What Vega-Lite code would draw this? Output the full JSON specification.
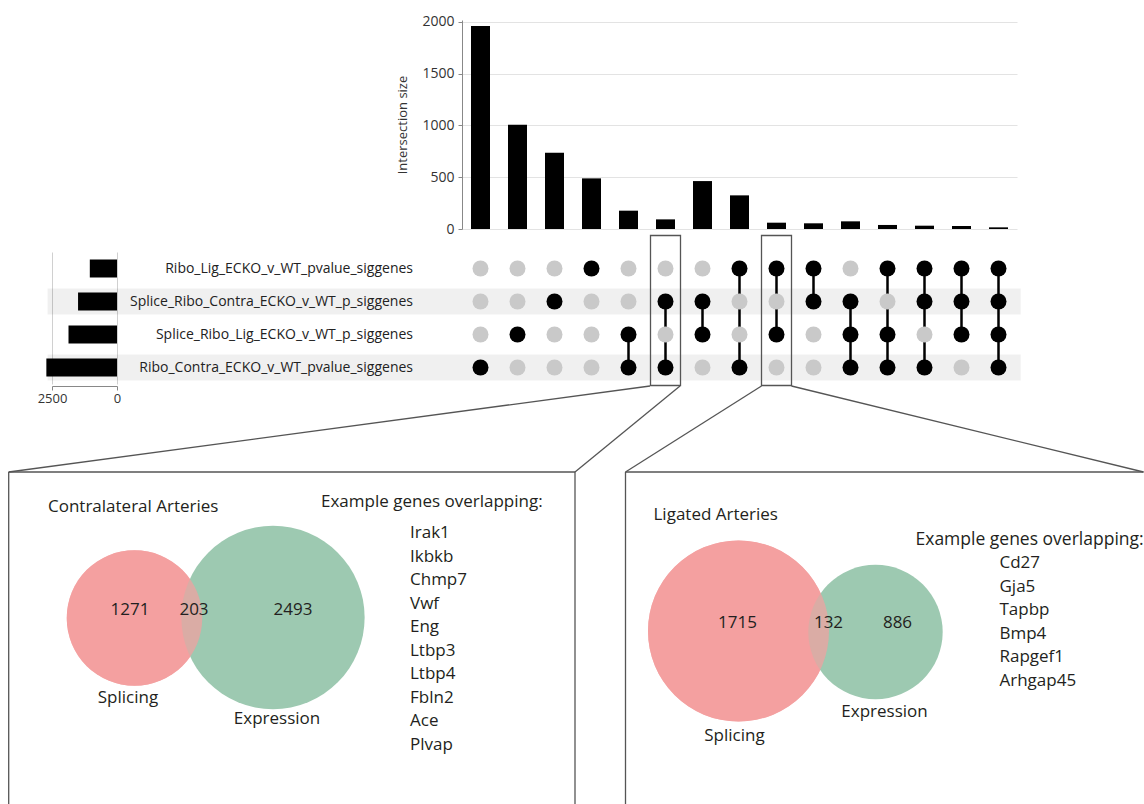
{
  "$schema": "https://vega.github.io/schema/vega-lite/v6.json",
  "background": "white",
  "padding": {"left": 8, "top": 14, "right": 0, "bottom": 0},
  "autosize": {"type": "pad"},
  "config": {"view": {"stroke": null}, "font": "Open Sans"},
  "datasets": {
    "sets": [
      {"key": "RL", "label": "Ribo_Lig_ECKO_v_WT_pvalue_siggenes", "order": 1},
      {"key": "SRC", "label": "Splice_Ribo_Contra_ECKO_v_WT_p_siggenes", "order": 2},
      {"key": "SRL", "label": "Splice_Ribo_Lig_ECKO_v_WT_p_siggenes", "order": 3},
      {"key": "RC", "label": "Ribo_Contra_ECKO_v_WT_pvalue_siggenes", "order": 4}
    ],
    "intersections": [
      {"id": 1, "size": 1961, "RL": 0, "SRC": 0, "SRL": 0, "RC": 1},
      {"id": 2, "size": 1006, "RL": 0, "SRC": 0, "SRL": 1, "RC": 0},
      {"id": 3, "size": 736, "RL": 0, "SRC": 1, "SRL": 0, "RC": 0},
      {"id": 4, "size": 489, "RL": 1, "SRC": 0, "SRL": 0, "RC": 0},
      {"id": 5, "size": 177, "RL": 0, "SRC": 0, "SRL": 1, "RC": 1},
      {"id": 6, "size": 93, "RL": 0, "SRC": 1, "SRL": 0, "RC": 1},
      {"id": 7, "size": 463, "RL": 0, "SRC": 1, "SRL": 1, "RC": 0},
      {"id": 8, "size": 325, "RL": 1, "SRC": 0, "SRL": 0, "RC": 1},
      {"id": 9, "size": 61, "RL": 1, "SRC": 0, "SRL": 1, "RC": 0},
      {"id": 10, "size": 55, "RL": 1, "SRC": 1, "SRL": 0, "RC": 0},
      {"id": 11, "size": 74, "RL": 0, "SRC": 1, "SRL": 1, "RC": 1},
      {"id": 12, "size": 39, "RL": 1, "SRC": 0, "SRL": 1, "RC": 1},
      {"id": 13, "size": 32, "RL": 1, "SRC": 1, "SRL": 0, "RC": 1},
      {"id": 14, "size": 29, "RL": 1, "SRC": 1, "SRL": 1, "RC": 0},
      {"id": 15, "size": 16, "RL": 1, "SRC": 1, "SRL": 1, "RC": 1}
    ],
    "venn_sets": [
      {"panel": "Contralateral Arteries", "set": "Splicing", "total": 1474},
      {"panel": "Contralateral Arteries", "set": "Expression", "total": 2696},
      {"panel": "Ligated Arteries", "set": "Splicing", "total": 1847},
      {"panel": "Ligated Arteries", "set": "Expression", "total": 1018}
    ],
    "venn_regions": [
      {"panel": "Contralateral Arteries", "region": "Splicing only", "n": 1271},
      {"panel": "Contralateral Arteries", "region": "Both", "n": 203},
      {"panel": "Contralateral Arteries", "region": "Expression only", "n": 2493},
      {"panel": "Ligated Arteries", "region": "Splicing only", "n": 1715},
      {"panel": "Ligated Arteries", "region": "Both", "n": 132},
      {"panel": "Ligated Arteries", "region": "Expression only", "n": 886}
    ],
    "panels": [
      {"panel": "Contralateral Arteries", "genes": ["Irak1", "Ikbkb", "Chmp7", "Vwf", "Eng", "Ltbp3", "Ltbp4", "Fbln2", "Ace", "Plvap"]},
      {"panel": "Ligated Arteries", "genes": ["Cd27", "Gja5", "Tapbp", "Bmp4", "Rapgef1", "Arhgap45"]}
    ]
  },
  "columns": 4,
  "spacing": 0,
  "bounds": "flush",
  "align": "each",
  "resolve": {"scale": {"size": "independent"}},
  "concat": [
    {"width": 44, "height": 209, "data": {"values": []}, "mark": "point"},
    {"width": 65, "height": 209, "data": {"values": []}, "mark": "point"},
    {"width": 344.5, "height": 209, "data": {"values": []}, "mark": "point"},
    {
      "width": 555,
      "height": 209,
      "data": {"name": "intersections"},
      "mark": {"type": "bar", "size": 19, "color": "#000"},
      "encoding": {
        "x": {"field": "id", "type": "quantitative", "scale": {"domain": [0.5, 15.5], "nice": false, "zero": false, "padding": 0}, "axis": null},
        "y": {
          "field": "size", "type": "quantitative",
          "scale": {"domain": [0, 2019], "nice": false},
          "axis": {"values": [0, 500, 1000, 1500, 2000], "format": "d", "title": "Intersection size", "titleFontSize": 13, "titleFontWeight": "normal", "titleColor": "#333", "titlePadding": 12, "labelFontSize": 14, "labelColor": "#333", "labelPadding": 4, "tickSize": 4, "tickColor": "#888", "domainColor": "#888", "grid": true, "gridColor": "#e3e3e3"}
        }
      }
    },
    {"width": 44, "height": 22.5, "data": {"values": []}, "mark": "point"},
    {"width": 65, "height": 22.5, "data": {"values": []}, "mark": "point"},
    {"width": 344.5, "height": 22.5, "data": {"values": []}, "mark": "point"},
    {"width": 555, "height": 22.5, "data": {"values": []}, "mark": "point"},
    {"width": 44, "height": 132, "data": {"values": []}, "mark": "point"},
    {
      "width": 65,
      "height": 132,
      "data": {"name": "intersections"},
      "transform": [
        {"fold": ["RL", "SRC", "SRL", "RC"], "as": ["key", "value"]},
        {"filter": "datum.value == 1"},
        {"aggregate": [{"op": "sum", "field": "size", "as": "total"}], "groupby": ["key"]},
        {"lookup": "key", "from": {"data": {"name": "sets"}, "key": "key", "fields": ["label"]}}
      ],
      "mark": {"type": "bar", "size": 18, "color": "#000"},
      "encoding": {
        "y": {"field": "label", "type": "nominal", "scale": {"domain": ["Ribo_Lig_ECKO_v_WT_pvalue_siggenes", "Splice_Ribo_Contra_ECKO_v_WT_p_siggenes", "Splice_Ribo_Lig_ECKO_v_WT_p_siggenes", "Ribo_Contra_ECKO_v_WT_pvalue_siggenes"], "paddingInner": 0.21, "paddingOuter": 0.105}, "axis": null},
        "x": {
          "field": "total", "type": "quantitative",
          "scale": {"domain": [0, 2500], "reverse": true, "nice": false},
          "axis": {"values": [0, 2500], "format": "d", "title": null, "grid": true, "gridColor": "#d0d0d0", "labelFontSize": 13, "labelColor": "#333", "labelFlush": false, "tickSize": 4, "tickColor": "#888", "domainColor": "#888", "offset": 2}
        }
      }
    },
    {"width": 344.5, "height": 132, "data": {"values": []}, "mark": "point"},
    {
      "width": 555,
      "height": 132,
      "resolve": {"scale": {"y": "independent"}},
      "layer": [
        {
          "layer": [
            {
              "data": {"name": "sets"},
              "transform": [{"filter": "datum.order % 2 == 0"}],
              "mark": {"type": "rect", "color": "#000", "opacity": 0.06},
              "encoding": {
                "y": {"field": "label", "type": "nominal", "scale": {"domain": ["Ribo_Lig_ECKO_v_WT_pvalue_siggenes", "Splice_Ribo_Contra_ECKO_v_WT_p_siggenes", "Splice_Ribo_Lig_ECKO_v_WT_p_siggenes", "Ribo_Contra_ECKO_v_WT_pvalue_siggenes"], "paddingInner": 0.21, "paddingOuter": 0.105},
                  "axis": {"title": null, "ticks": false, "domain": false, "labelPadding": 49.5, "labelFontSize": 14, "labelColor": "#222", "labelLimit": 0}},
                "x": {"datum": -10.7, "type": "quantitative", "scale": {"domain": [0.5, 15.5], "nice": false, "zero": false, "padding": 0}, "axis": null},
                "x2": {"datum": 15.6}
              }
            },
            {
              "data": {"name": "intersections"},
              "transform": [
                {"fold": ["RL", "SRC", "SRL", "RC"], "as": ["key", "value"]},
                {"filter": "datum.value == 1"},
                {"lookup": "key", "from": {"data": {"name": "sets"}, "key": "key", "fields": ["order"]}},
                {"aggregate": [{"op": "min", "field": "order", "as": "lo"}, {"op": "max", "field": "order", "as": "hi"}], "groupby": ["id"]},
                {"filter": "datum.hi > datum.lo"},
                {"lookup": "lo", "from": {"data": {"name": "sets"}, "key": "order", "fields": ["label"]}, "as": ["top"]},
                {"lookup": "hi", "from": {"data": {"name": "sets"}, "key": "order", "fields": ["label"]}, "as": ["bottom"]}
              ],
              "mark": {"type": "rule", "color": "#000", "strokeWidth": 2.5},
              "encoding": {
                "x": {"field": "id", "type": "quantitative", "scale": {"domain": [0.5, 15.5], "nice": false, "zero": false, "padding": 0}},
                "y": {"field": "top", "type": "nominal"},
                "y2": {"field": "bottom"}
              }
            },
            {
              "data": {"name": "intersections"},
              "transform": [
                {"fold": ["RL", "SRC", "SRL", "RC"], "as": ["key", "value"]},
                {"lookup": "key", "from": {"data": {"name": "sets"}, "key": "key", "fields": ["label"]}}
              ],
              "mark": {"type": "point", "filled": true, "size": 256, "opacity": 1},
              "encoding": {
                "x": {"field": "id", "type": "quantitative", "scale": {"domain": [0.5, 15.5], "nice": false, "zero": false, "padding": 0}},
                "y": {"field": "label", "type": "nominal"},
                "color": {"condition": {"test": "datum.value == 1", "value": "#000"}, "value": "#c9c9c9"}
              }
            }
          ]
        },
        {
          "data": {"name": "intersections"},
          "transform": [{"filter": "datum.id == 6 || datum.id == 9"}],
          "mark": {"type": "bar", "filled": false, "color": "#555", "strokeWidth": 1.3, "size": 30},
          "encoding": {
            "x": {"field": "id", "type": "quantitative", "scale": {"domain": [0.5, 15.5], "nice": false, "zero": false, "padding": 0}},
            "y": {"datum": 1.125, "type": "quantitative", "scale": {"domain": [0, 1], "nice": false, "zero": false}, "axis": null},
            "y2": {"datum": -0.0114}
          }
        }
      ]
    },
    {"width": 44, "height": 87.5, "data": {"values": []}, "mark": "point"},
    {"width": 65, "height": 87.5, "data": {"values": []}, "mark": "point"},
    {"width": 344.5, "height": 87.5, "data": {"values": []}, "mark": "point"},
    {"width": 555, "height": 87.5, "data": {"values": []}, "mark": "point"},
    {
      "width": 44,
      "height": 339,
      "data": {"values": [{}]},
      "layer": [
        {"mark": {"type": "rule", "color": "#555", "strokeWidth": 1.3}, "encoding": {"x": {"datum": 0.7, "type": "quantitative", "scale": {"domain": [0, 44]}, "axis": null}, "y": {"datum": 0, "type": "quantitative", "scale": {"domain": [0, 339], "reverse": true}, "axis": null}, "x2": {"datum": 567}, "y2": {"datum": 0}}},
        {"mark": {"type": "rule", "color": "#555", "strokeWidth": 1.3}, "encoding": {"x": {"datum": 0.7, "type": "quantitative", "scale": {"domain": [0, 44]}, "axis": null}, "y": {"datum": 0, "type": "quantitative", "scale": {"domain": [0, 339], "reverse": true}, "axis": null}, "x2": {"datum": 0.7}, "y2": {"datum": 337.5}}},
        {"mark": {"type": "rule", "color": "#555", "strokeWidth": 1.3}, "encoding": {"x": {"datum": 567, "type": "quantitative", "scale": {"domain": [0, 44]}, "axis": null}, "y": {"datum": 0, "type": "quantitative", "scale": {"domain": [0, 339], "reverse": true}, "axis": null}, "x2": {"datum": 567}, "y2": {"datum": 337.5}}},
        {"mark": {"type": "rule", "color": "#555", "strokeWidth": 1.3}, "encoding": {"x": {"datum": 642, "type": "quantitative", "scale": {"domain": [0, 44]}, "axis": null}, "y": {"datum": -86, "type": "quantitative", "scale": {"domain": [0, 339], "reverse": true}, "axis": null}, "x2": {"datum": 0.7}, "y2": {"datum": 0}}},
        {"mark": {"type": "rule", "color": "#555", "strokeWidth": 1.3}, "encoding": {"x": {"datum": 672, "type": "quantitative", "scale": {"domain": [0, 44]}, "axis": null}, "y": {"datum": -86, "type": "quantitative", "scale": {"domain": [0, 339], "reverse": true}, "axis": null}, "x2": {"datum": 567}, "y2": {"datum": 0}}},
        {
          "data": {"name": "venn_sets"},
          "transform": [{"filter": "datum.panel == 'Contralateral Arteries' && datum.set == 'Splicing'"}],
          "mark": {"type": "point", "shape": "circle", "filled": true, "opacity": 1, "strokeWidth": 0},
          "encoding": {
            "x": {"datum": 126.5, "type": "quantitative", "scale": {"domain": [0, 44]}, "axis": null},
            "y": {"datum": 146, "type": "quantitative", "scale": {"domain": [0, 339], "reverse": true}, "axis": null},
            "size": {"field": "total", "type": "quantitative", "scale": {"domain": [0, 3000], "range": [0, 37380]}, "legend": null},
            "color": {"field": "set", "type": "nominal", "scale": {"domain": ["Splicing", "Expression"], "range": ["#f4a0a0", "#9dc9b1"]}, "legend": null}
          }
        },
        {
          "data": {"name": "venn_sets"},
          "transform": [{"filter": "datum.panel == 'Contralateral Arteries' && datum.set == 'Expression'"}],
          "mark": {"type": "point", "shape": "circle", "filled": true, "opacity": 1, "strokeWidth": 0},
          "encoding": {
            "x": {"datum": 265, "type": "quantitative", "scale": {"domain": [0, 44]}, "axis": null},
            "y": {"datum": 145.5, "type": "quantitative", "scale": {"domain": [0, 339], "reverse": true}, "axis": null},
            "size": {"field": "total", "type": "quantitative", "scale": {"domain": [0, 3000], "range": [0, 37380]}, "legend": null},
            "color": {"field": "set", "type": "nominal", "scale": {"domain": ["Splicing", "Expression"], "range": ["#f4a0a0", "#9dc9b1"]}, "legend": null}
          }
        },
        {
          "data": {"name": "venn_sets"},
          "transform": [{"filter": "datum.panel == 'Contralateral Arteries' && datum.set == 'Splicing'"}],
          "mark": {"type": "point", "shape": "circle", "filled": true, "opacity": 0.7, "strokeWidth": 0},
          "encoding": {
            "x": {"datum": 126.5, "type": "quantitative", "scale": {"domain": [0, 44]}, "axis": null},
            "y": {"datum": 146, "type": "quantitative", "scale": {"domain": [0, 339], "reverse": true}, "axis": null},
            "size": {"field": "total", "type": "quantitative", "scale": {"domain": [0, 3000], "range": [0, 37380]}, "legend": null},
            "color": {"field": "set", "type": "nominal", "scale": {"domain": ["Splicing", "Expression"], "range": ["#f4a0a0", "#9dc9b1"]}, "legend": null}
          }
        },
        {
          "data": {"name": "panels"},
          "transform": [{"filter": "datum.panel == 'Contralateral Arteries'"}],
          "mark": {"type": "text", "fontSize": 17, "color": "#231f20", "align": "left", "baseline": "middle"},
          "encoding": {
            "x": {"datum": 40, "type": "quantitative", "scale": {"domain": [0, 44]}, "axis": null},
            "y": {"datum": 35, "type": "quantitative", "scale": {"domain": [0, 339], "reverse": true}, "axis": null},
            "text": {"field": "panel", "type": "nominal"}
          }
        },
        {
          "data": {"name": "venn_regions"},
          "transform": [{"filter": "datum.panel == 'Contralateral Arteries' && datum.region == 'Splicing only'"}],
          "mark": {"type": "text", "fontSize": 17, "color": "#231f20", "align": "center", "baseline": "middle"},
          "encoding": {
            "x": {"datum": 122, "type": "quantitative", "scale": {"domain": [0, 44]}, "axis": null},
            "y": {"datum": 138, "type": "quantitative", "scale": {"domain": [0, 339], "reverse": true}, "axis": null},
            "text": {"field": "n", "type": "nominal"}
          }
        },
        {
          "data": {"name": "venn_regions"},
          "transform": [{"filter": "datum.panel == 'Contralateral Arteries' && datum.region == 'Both'"}],
          "mark": {"type": "text", "fontSize": 17, "color": "#231f20", "align": "center", "baseline": "middle"},
          "encoding": {
            "x": {"datum": 186, "type": "quantitative", "scale": {"domain": [0, 44]}, "axis": null},
            "y": {"datum": 138, "type": "quantitative", "scale": {"domain": [0, 339], "reverse": true}, "axis": null},
            "text": {"field": "n", "type": "nominal"}
          }
        },
        {
          "data": {"name": "venn_regions"},
          "transform": [{"filter": "datum.panel == 'Contralateral Arteries' && datum.region == 'Expression only'"}],
          "mark": {"type": "text", "fontSize": 17, "color": "#231f20", "align": "center", "baseline": "middle"},
          "encoding": {
            "x": {"datum": 285, "type": "quantitative", "scale": {"domain": [0, 44]}, "axis": null},
            "y": {"datum": 138, "type": "quantitative", "scale": {"domain": [0, 339], "reverse": true}, "axis": null},
            "text": {"field": "n", "type": "nominal"}
          }
        },
        {
          "data": {"name": "venn_sets"},
          "transform": [{"filter": "datum.panel == 'Contralateral Arteries' && datum.set == 'Splicing'"}],
          "mark": {"type": "text", "fontSize": 17, "color": "#231f20", "align": "center", "baseline": "middle"},
          "encoding": {
            "x": {"datum": 120, "type": "quantitative", "scale": {"domain": [0, 44]}, "axis": null},
            "y": {"datum": 226, "type": "quantitative", "scale": {"domain": [0, 339], "reverse": true}, "axis": null},
            "text": {"field": "set", "type": "nominal"}
          }
        },
        {
          "data": {"name": "venn_sets"},
          "transform": [{"filter": "datum.panel == 'Contralateral Arteries' && datum.set == 'Expression'"}],
          "mark": {"type": "text", "fontSize": 17, "color": "#231f20", "align": "center", "baseline": "middle"},
          "encoding": {
            "x": {"datum": 269, "type": "quantitative", "scale": {"domain": [0, 44]}, "axis": null},
            "y": {"datum": 247, "type": "quantitative", "scale": {"domain": [0, 339], "reverse": true}, "axis": null},
            "text": {"field": "set", "type": "nominal"}
          }
        },
        {
          "mark": {"type": "text", "fontSize": 17, "color": "#231f20", "align": "left", "baseline": "middle"},
          "encoding": {
            "x": {"datum": 313, "type": "quantitative", "scale": {"domain": [0, 44]}, "axis": null},
            "y": {"datum": 30, "type": "quantitative", "scale": {"domain": [0, 339], "reverse": true}, "axis": null},
            "text": {"value": "Example genes overlapping:"}
          }
        },
        {
          "data": {"name": "panels"},
          "transform": [{"filter": "datum.panel == 'Contralateral Arteries'"}],
          "mark": {"type": "text", "fontSize": 17, "color": "#231f20", "align": "left", "baseline": "middle", "lineHeight": 23.5},
          "encoding": {
            "x": {"datum": 402, "type": "quantitative", "scale": {"domain": [0, 44]}, "axis": null},
            "y": {"datum": 61, "type": "quantitative", "scale": {"domain": [0, 339], "reverse": true}, "axis": null},
            "text": {"field": "genes", "type": "nominal"}
          }
        }
      ]
    },
    {"width": 65, "height": 339, "data": {"values": []}, "mark": "point"},
    {"width": 344.5, "height": 339, "data": {"values": []}, "mark": "point"},
    {
      "width": 555,
      "height": 339,
      "data": {"values": [{}]},
      "layer": [
        {"mark": {"type": "rule", "color": "#555", "strokeWidth": 1.3}, "encoding": {"x": {"datum": 0, "type": "quantitative", "scale": {"domain": [-163.5, 391.5]}, "axis": null}, "y": {"datum": 0, "type": "quantitative", "scale": {"domain": [0, 339], "reverse": true}, "axis": null}, "x2": {"datum": 518}, "y2": {"datum": 0}}},
        {"mark": {"type": "rule", "color": "#555", "strokeWidth": 1.3}, "encoding": {"x": {"datum": 0, "type": "quantitative", "scale": {"domain": [-163.5, 391.5]}, "axis": null}, "y": {"datum": 0, "type": "quantitative", "scale": {"domain": [0, 339], "reverse": true}, "axis": null}, "x2": {"datum": 0}, "y2": {"datum": 337.5}}},
        {"mark": {"type": "rule", "color": "#555", "strokeWidth": 1.3}, "encoding": {"x": {"datum": 136, "type": "quantitative", "scale": {"domain": [-163.5, 391.5]}, "axis": null}, "y": {"datum": -86, "type": "quantitative", "scale": {"domain": [0, 339], "reverse": true}, "axis": null}, "x2": {"datum": 0}, "y2": {"datum": 0}}},
        {"mark": {"type": "rule", "color": "#555", "strokeWidth": 1.3}, "encoding": {"x": {"datum": 166, "type": "quantitative", "scale": {"domain": [-163.5, 391.5]}, "axis": null}, "y": {"datum": -86, "type": "quantitative", "scale": {"domain": [0, 339], "reverse": true}, "axis": null}, "x2": {"datum": 518}, "y2": {"datum": 0}}},
        {
          "data": {"name": "venn_sets"},
          "transform": [{"filter": "datum.panel == 'Ligated Arteries' && datum.set == 'Splicing'"}],
          "mark": {"type": "point", "shape": "circle", "filled": true, "opacity": 1, "strokeWidth": 0},
          "encoding": {
            "x": {"datum": 113, "type": "quantitative", "scale": {"domain": [-163.5, 391.5]}, "axis": null},
            "y": {"datum": 159, "type": "quantitative", "scale": {"domain": [0, 339], "reverse": true}, "axis": null},
            "size": {"field": "total", "type": "quantitative", "scale": {"domain": [0, 3000], "range": [0, 53220]}, "legend": null},
            "color": {"field": "set", "type": "nominal", "scale": {"domain": ["Splicing", "Expression"], "range": ["#f4a0a0", "#9dc9b1"]}, "legend": null}
          }
        },
        {
          "data": {"name": "venn_sets"},
          "transform": [{"filter": "datum.panel == 'Ligated Arteries' && datum.set == 'Expression'"}],
          "mark": {"type": "point", "shape": "circle", "filled": true, "opacity": 1, "strokeWidth": 0},
          "encoding": {
            "x": {"datum": 250, "type": "quantitative", "scale": {"domain": [-163.5, 391.5]}, "axis": null},
            "y": {"datum": 160, "type": "quantitative", "scale": {"domain": [0, 339], "reverse": true}, "axis": null},
            "size": {"field": "total", "type": "quantitative", "scale": {"domain": [0, 3000], "range": [0, 53220]}, "legend": null},
            "color": {"field": "set", "type": "nominal", "scale": {"domain": ["Splicing", "Expression"], "range": ["#f4a0a0", "#9dc9b1"]}, "legend": null}
          }
        },
        {
          "data": {"name": "venn_sets"},
          "transform": [{"filter": "datum.panel == 'Ligated Arteries' && datum.set == 'Splicing'"}],
          "mark": {"type": "point", "shape": "circle", "filled": true, "opacity": 0.7, "strokeWidth": 0},
          "encoding": {
            "x": {"datum": 113, "type": "quantitative", "scale": {"domain": [-163.5, 391.5]}, "axis": null},
            "y": {"datum": 159, "type": "quantitative", "scale": {"domain": [0, 339], "reverse": true}, "axis": null},
            "size": {"field": "total", "type": "quantitative", "scale": {"domain": [0, 3000], "range": [0, 53220]}, "legend": null},
            "color": {"field": "set", "type": "nominal", "scale": {"domain": ["Splicing", "Expression"], "range": ["#f4a0a0", "#9dc9b1"]}, "legend": null}
          }
        },
        {
          "data": {"name": "panels"},
          "transform": [{"filter": "datum.panel == 'Ligated Arteries'"}],
          "mark": {"type": "text", "fontSize": 17, "color": "#231f20", "align": "left", "baseline": "middle"},
          "encoding": {
            "x": {"datum": 28, "type": "quantitative", "scale": {"domain": [-163.5, 391.5]}, "axis": null},
            "y": {"datum": 43, "type": "quantitative", "scale": {"domain": [0, 339], "reverse": true}, "axis": null},
            "text": {"field": "panel", "type": "nominal"}
          }
        },
        {
          "data": {"name": "venn_regions"},
          "transform": [{"filter": "datum.panel == 'Ligated Arteries' && datum.region == 'Splicing only'"}],
          "mark": {"type": "text", "fontSize": 17, "color": "#231f20", "align": "center", "baseline": "middle"},
          "encoding": {
            "x": {"datum": 112, "type": "quantitative", "scale": {"domain": [-163.5, 391.5]}, "axis": null},
            "y": {"datum": 151, "type": "quantitative", "scale": {"domain": [0, 339], "reverse": true}, "axis": null},
            "text": {"field": "n", "type": "nominal"}
          }
        },
        {
          "data": {"name": "venn_regions"},
          "transform": [{"filter": "datum.panel == 'Ligated Arteries' && datum.region == 'Both'"}],
          "mark": {"type": "text", "fontSize": 17, "color": "#231f20", "align": "center", "baseline": "middle"},
          "encoding": {
            "x": {"datum": 203, "type": "quantitative", "scale": {"domain": [-163.5, 391.5]}, "axis": null},
            "y": {"datum": 151, "type": "quantitative", "scale": {"domain": [0, 339], "reverse": true}, "axis": null},
            "text": {"field": "n", "type": "nominal"}
          }
        },
        {
          "data": {"name": "venn_regions"},
          "transform": [{"filter": "datum.panel == 'Ligated Arteries' && datum.region == 'Expression only'"}],
          "mark": {"type": "text", "fontSize": 17, "color": "#231f20", "align": "center", "baseline": "middle"},
          "encoding": {
            "x": {"datum": 272, "type": "quantitative", "scale": {"domain": [-163.5, 391.5]}, "axis": null},
            "y": {"datum": 151, "type": "quantitative", "scale": {"domain": [0, 339], "reverse": true}, "axis": null},
            "text": {"field": "n", "type": "nominal"}
          }
        },
        {
          "data": {"name": "venn_sets"},
          "transform": [{"filter": "datum.panel == 'Ligated Arteries' && datum.set == 'Splicing'"}],
          "mark": {"type": "text", "fontSize": 17, "color": "#231f20", "align": "center", "baseline": "middle"},
          "encoding": {
            "x": {"datum": 109, "type": "quantitative", "scale": {"domain": [-163.5, 391.5]}, "axis": null},
            "y": {"datum": 264, "type": "quantitative", "scale": {"domain": [0, 339], "reverse": true}, "axis": null},
            "text": {"field": "set", "type": "nominal"}
          }
        },
        {
          "data": {"name": "venn_sets"},
          "transform": [{"filter": "datum.panel == 'Ligated Arteries' && datum.set == 'Expression'"}],
          "mark": {"type": "text", "fontSize": 17, "color": "#231f20", "align": "center", "baseline": "middle"},
          "encoding": {
            "x": {"datum": 259, "type": "quantitative", "scale": {"domain": [-163.5, 391.5]}, "axis": null},
            "y": {"datum": 240, "type": "quantitative", "scale": {"domain": [0, 339], "reverse": true}, "axis": null},
            "text": {"field": "set", "type": "nominal"}
          }
        },
        {
          "mark": {"type": "text", "fontSize": 17.5, "color": "#231f20", "align": "left", "baseline": "middle"},
          "encoding": {
            "x": {"datum": 290, "type": "quantitative", "scale": {"domain": [-163.5, 391.5]}, "axis": null},
            "y": {"datum": 68, "type": "quantitative", "scale": {"domain": [0, 339], "reverse": true}, "axis": null},
            "text": {"value": "Example genes overlapping:"}
          }
        },
        {
          "data": {"name": "panels"},
          "transform": [{"filter": "datum.panel == 'Ligated Arteries'"}],
          "mark": {"type": "text", "fontSize": 17, "color": "#231f20", "align": "left", "baseline": "middle", "lineHeight": 23.6},
          "encoding": {
            "x": {"datum": 374, "type": "quantitative", "scale": {"domain": [-163.5, 391.5]}, "axis": null},
            "y": {"datum": 91, "type": "quantitative", "scale": {"domain": [0, 339], "reverse": true}, "axis": null},
            "text": {"field": "genes", "type": "nominal"}
          }
        }
      ]
    }
  ]
}
